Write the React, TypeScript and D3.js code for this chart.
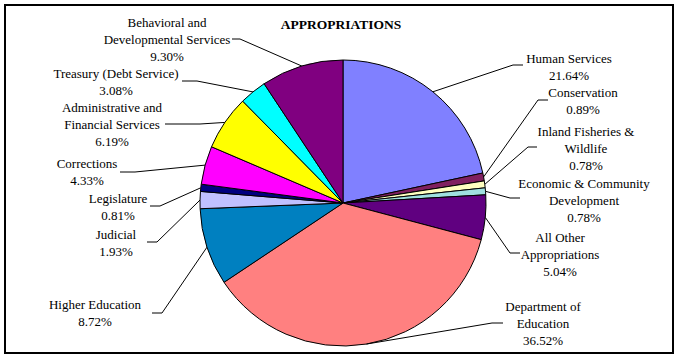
import React from "react";
import * as d3 from "d3";

const categories = [
  "Human Services",
  "Conservation",
  "Inland Fisheries & Wildlife",
  "Economic & Community Development",
  "All Other Appropriations",
  "Department of Education",
  "Higher Education",
  "Judicial",
  "Legislature",
  "Corrections",
  "Administrative and Financial Services",
  "Treasury (Debt Service)",
  "Behavioral and Developmental Services",
];

const values = [21.64, 0.89, 0.78, 0.78, 5.04, 36.52, 8.72, 1.93, 0.81, 4.33, 6.19, 3.08, 9.3];

const labelLines = [
  ["Human Services"],
  ["Conservation"],
  ["Inland Fisheries &", "Wildlife"],
  ["Economic & Community", "Development"],
  ["All Other", "Appropriations"],
  ["Department of", "Education"],
  ["Higher Education"],
  ["Judicial"],
  ["Legislature"],
  ["Corrections"],
  ["Administrative and", "Financial Services"],
  ["Treasury (Debt Service)"],
  ["Behavioral and", "Developmental Services"],
];

const colors = [
  "#8080FF", "#802060", "#FFFFC0", "#A0E0E0", "#600080", "#FF8080",
  "#0080C0", "#C0C0FF", "#000080", "#FF00FF", "#FFFF00", "#00FFFF", "#800080",
];

// layout: label center x, first line center y, leader horizontal y, leader x near text, elbow x
const labelLayout = [
  { x: 569, y: 58, ly: 65, lx1: 523, lx2: 513 },
  { x: 583, y: 92, ly: 100, lx1: 548, lx2: 538 },
  { x: 586, y: 131, ly: 147, lx1: 537, lx2: 528 },
  { x: 584, y: 183, ly: 198, lx1: 520, lx2: 510 },
  { x: 560, y: 237, ly: 253, lx1: 520, lx2: 510 },
  { x: 543, y: 306, ly: 323, lx1: 503, lx2: 492 },
  { x: 95, y: 304, ly: 313, lx1: 152, lx2: 162 },
  { x: 116, y: 234, ly: 242, lx1: 147, lx2: 157 },
  { x: 118, y: 198, ly: 206, lx1: 150, lx2: 160 },
  { x: 87, y: 163, ly: 172, lx1: 120, lx2: 135 },
  { x: 112, y: 107, ly: 124, lx1: 165, lx2: 200 },
  { x: 116, y: 73, ly: 81, lx1: 182, lx2: 197 },
  { x: 167, y: 22, ly: 39, lx1: 232, lx2: 240 },
];

const W = 681;
const H = 359;
const CX = 343;
const CY = 203;
const R = 143;
const LINE = 17;
const FONT = "Liberation Serif, DejaVu Serif, Times New Roman, serif";

export default function App() {
  const pie = d3.pie<number>().sort(null).value((d) => d);
  const arcs = pie(values);
  const arcGen = d3.arc<d3.PieArcDatum<number>>().innerRadius(0).outerRadius(R);

  return (
    <svg
      width={W}
      height={H}
      style={{ position: "absolute", left: 0, top: 0, background: "#fff", fontFamily: FONT }}
    >
      <rect x={5} y={5} width={668} height={348} fill="#fff" stroke="#000" strokeWidth={2} />
      <text
        x={341}
        y={24}
        textAnchor="middle"
        dominantBaseline="central"
        style={{ fontFamily: FONT, fontWeight: "bold", fontSize: "13.5px" }}
      >
        APPROPRIATIONS
      </text>
      <g transform={`translate(${CX},${CY})`}>
        {arcs.map((a, i) => (
          <path key={i} d={arcGen(a) || ""} fill={colors[i]} stroke="#000" strokeWidth={1} />
        ))}
      </g>
      {arcs.map((a, i) => {
        const L = labelLayout[i];
        const mid = (a.startAngle + a.endAngle) / 2;
        const px = CX + R * Math.sin(mid);
        const py = CY - R * Math.cos(mid);
        const lines = [...labelLines[i], `${values[i].toFixed(2)}%`];
        return (
          <g key={categories[i]}>
            <polyline
              points={`${L.lx1},${L.ly} ${L.lx2},${L.ly} ${px},${py}`}
              fill="none"
              stroke="#000"
              strokeWidth={1}
            />
            {lines.map((t, j) => (
              <text
                key={j}
                x={L.x}
                y={L.y + j * LINE}
                textAnchor="middle"
                dominantBaseline="central"
                style={{ fontFamily: FONT, fontSize: "13px" }}
              >
                {t}
              </text>
            ))}
          </g>
        );
      })}
    </svg>
  );
}
